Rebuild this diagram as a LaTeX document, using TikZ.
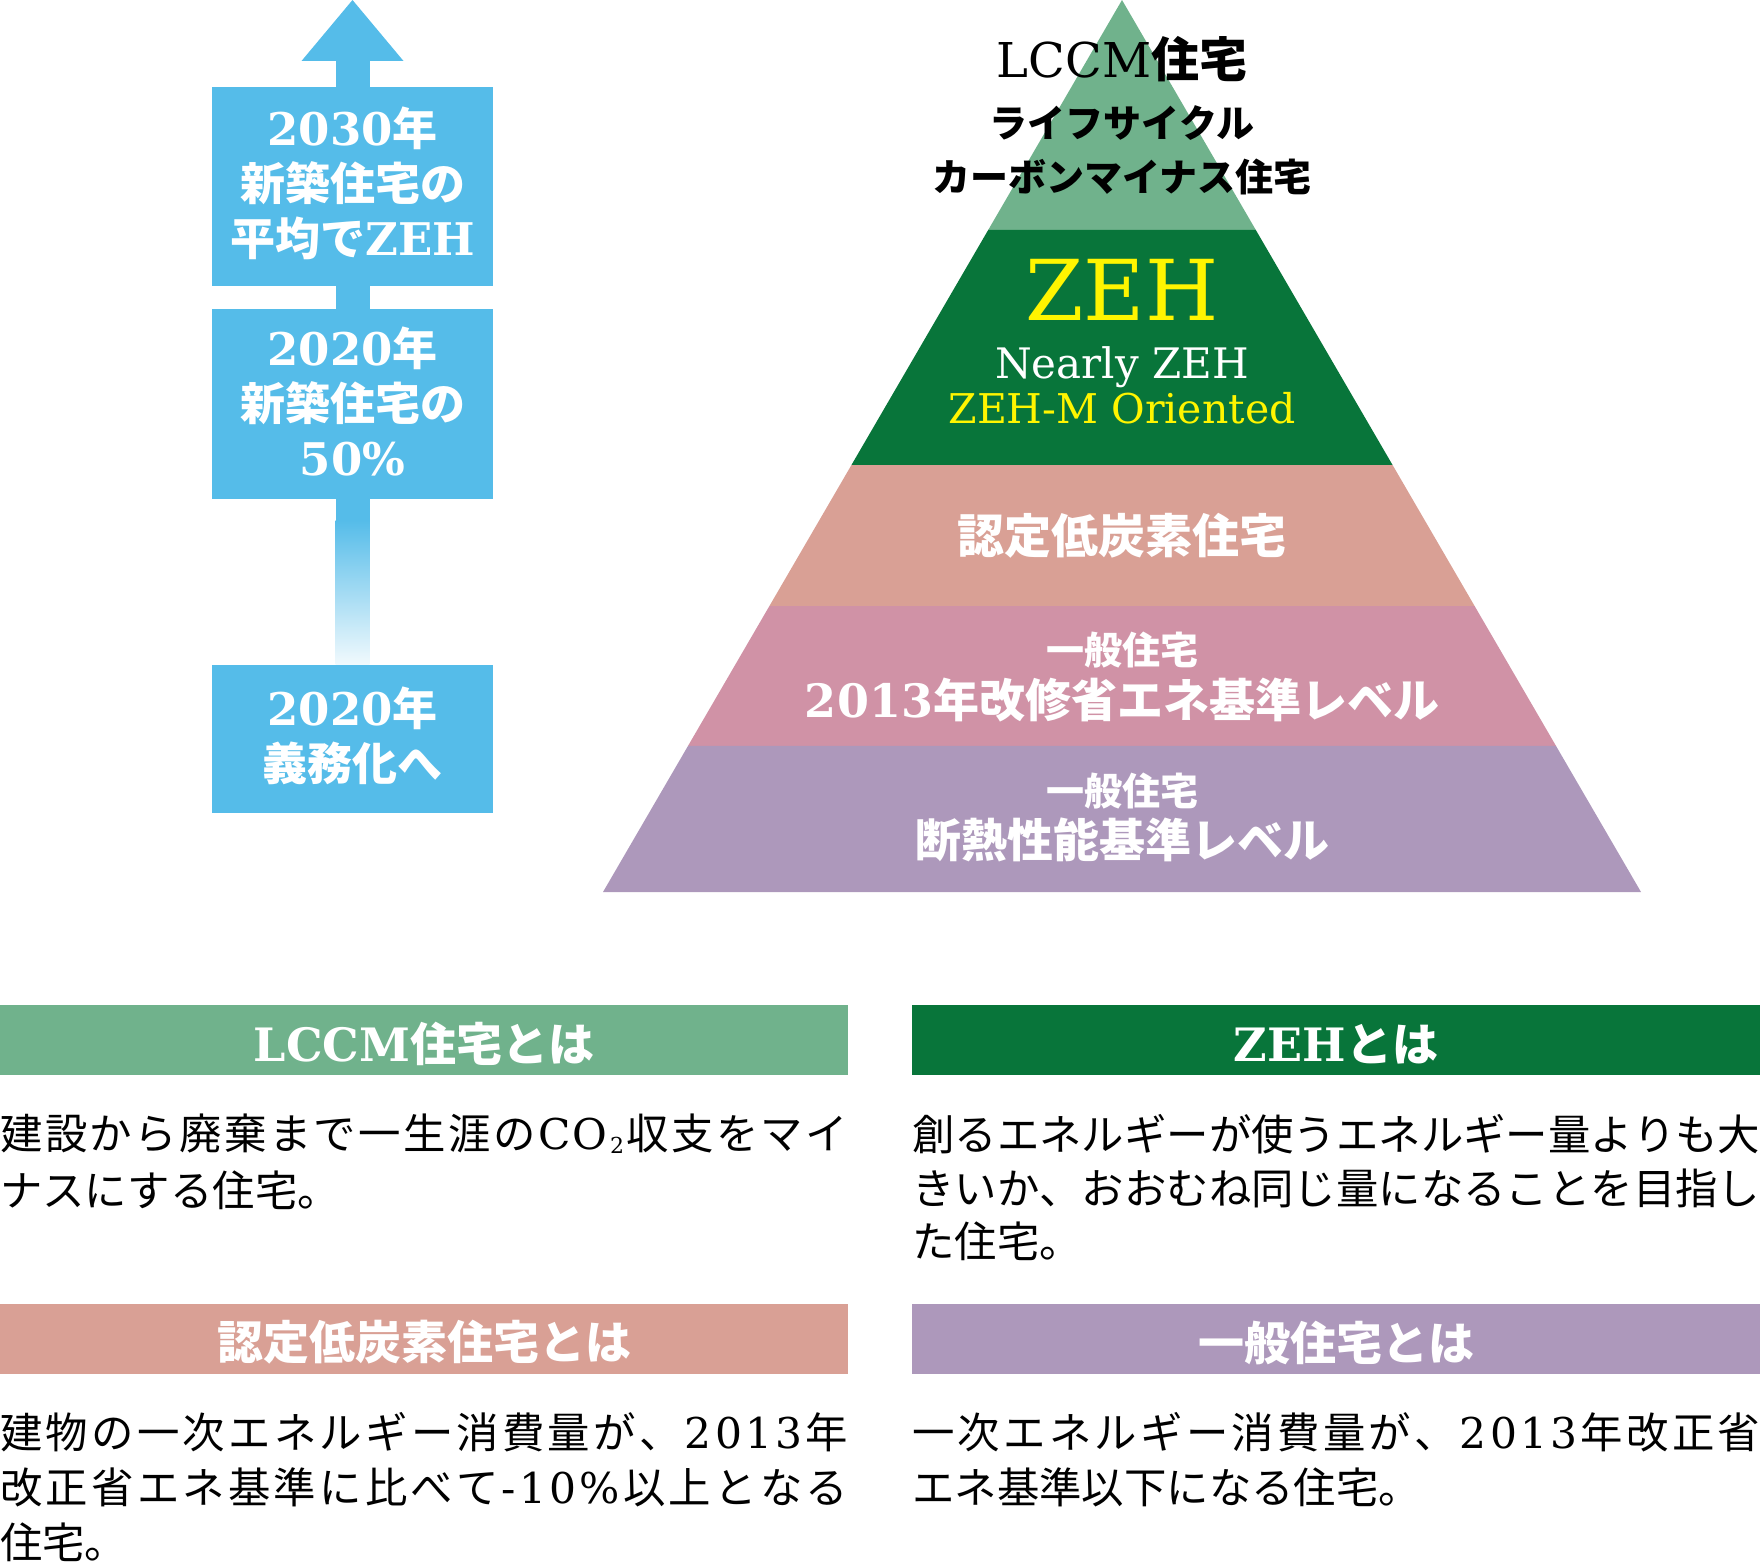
\documentclass[tikz,border=0pt]{standalone}
\usepackage{fontspec}
\setmainfont{Noto Sans CJK JP}
\newfontfamily\lat{DejaVu Serif}
\usetikzlibrary{calc}
\definecolor{skyb}{RGB}{85,188,233}
\definecolor{lgreen}{RGB}{112,178,140}
\definecolor{dgreen}{RGB}{8,117,58}
\definecolor{salmonc}{RGB}{217,160,149}
\definecolor{pinkc}{RGB}{208,146,166}
\definecolor{purpc}{RGB}{173,152,187}
\definecolor{zyellow}{RGB}{255,245,0}
\newcommand\fsz[2]{\fontsize{#1}{#2}\selectfont}
\newcommand\subtwo{\raisebox{-0.1em}{\fontsize{22}{22}\selectfont\lat 2}}
\ExplSyntaxOn
\NewDocumentCommand\spreadline{m}{
  \hbox_to_wd:nn {848pt} { \tl_map_inline:nn {#1} { {##1} \hfil } \unskip }
}
\ExplSyntaxOff
\tikzset{
  boxfill/.style={fill=skyb, inner sep=0pt, minimum width=281pt},
  boxtxt/.style={text=white, font=\bfseries\fsz{45}{55}, align=center, inner sep=0pt},
  pyrtxt/.style={text=white, font=\bfseries\fsz{47}{55}, inner sep=0pt},
  hdr/.style={inner sep=0pt, minimum width=848pt, minimum height=70pt},
  hdrtxt/.style={text=white, font=\bfseries\fsz{46}{50}, inner sep=0pt},
  bodytxt/.style={anchor=west, inner sep=0pt, font=\fsz{42.4}{54}, text=black},
}
\begin{document}
\begin{tikzpicture}[x=1pt,y=-1pt]
\path[use as bounding box] (0,0) rectangle (1760,1563);
% pyramid
\coordinate (apex) at (1122,0);
\coordinate (bl) at (603,892);
\coordinate (br) at (1641,892);
\coordinate (l1) at ($(apex)!0.2578!(bl)$);
\coordinate (r1) at ($(apex)!0.2578!(br)$);
\coordinate (l2) at ($(apex)!0.5213!(bl)$);
\coordinate (r2) at ($(apex)!0.5213!(br)$);
\coordinate (l3) at ($(apex)!0.6794!(bl)$);
\coordinate (r3) at ($(apex)!0.6794!(br)$);
\coordinate (l4) at ($(apex)!0.8363!(bl)$);
\coordinate (r4) at ($(apex)!0.8363!(br)$);
\fill[lgreen] (apex) -- (r1) -- (l1) -- cycle;
\fill[dgreen] (l1) -- (r1) -- (r2) -- (l2) -- cycle;
\fill[salmonc] (l2) -- (r2) -- (r3) -- (l3) -- cycle;
\fill[pinkc] (l3) -- (r3) -- (r4) -- (l4) -- cycle;
\fill[purpc] (l4) -- (r4) -- (br) -- (bl) -- cycle;
% pyramid texts
\node[inner sep=0pt, font=\bfseries\fsz{48}{50}, text=black] (lccm) at (1122,59) {{\lat\mdseries LCCM}住宅};
\node[inner sep=0pt, font=\bfseries\fsz{38}{40}, text=black] (lc2) at (1122,123) {ライフサイクル};
\node[inner sep=0pt, font=\bfseries\fsz{38}{40}, text=black] (lc3) at (1122,177) {カーボンマイナス住宅};
\node[inner sep=0pt, font=\lat\fsz{84}{90}, text=zyellow] (zeh) at (1122,290) {ZEH};
\node[inner sep=0pt, anchor=base, font=\lat\fsz{42}{45}, text=white] (nz) at (1122,378) {Nearly ZEH};
\node[inner sep=0pt, anchor=base, font=\lat\fsz{41}{45}, text=zyellow] (zm) at (1122,423) {ZEH-M Oriented};
\node[pyrtxt] (nt) at (1122,536) {認定低炭素住宅};
\node[pyrtxt, font=\bfseries\fsz{38}{40}] (ip1) at (1122,650) {一般住宅};
\node[pyrtxt, font=\bfseries\fsz{46}{50}] (ip1b) at (1122,700) {{\lat 2013}年改修省エネ基準レベル};
\node[pyrtxt, font=\bfseries\fsz{38}{40}] (ip2) at (1122,791) {一般住宅};
\node[pyrtxt, font=\bfseries\fsz{46}{50}] (ip2b) at (1122,840) {断熱性能基準レベル};
% left arrow and boxes
\node[boxfill, minimum height=199pt] (b1) at (352.5,186.5) {};
\node[boxfill, minimum height=190pt] (b2) at (352.5,404) {};
\node[boxfill, minimum height=148pt] (b3) at (352.5,739) {};
\node[boxtxt] (b1t) at ([yshift=3pt]b1.center) {{\lat 2030}年\\新築住宅の\\平均で{\lat ZEH}};
\node[boxtxt] (b2t) at ([yshift=3pt]b2.center) {{\lat 2020}年\\新築住宅の\\{\lat 50\%}};
\node[boxtxt] (b3t) at ([yshift=3pt]b3.center) {{\lat 2020}年\\義務化へ};
\coordinate (tip) at (352.5,0);
\fill[skyb] (tip) -- ++(51,61) -- ++(-102,0) -- cycle;
\fill[skyb] ($(b1.north)+(-17,1)$) rectangle ($(tip)+(17,60)$);
\fill[skyb] ($(b1.south)+(-17,-1)$) rectangle ($(b2.north)+(17,1)$);
\fill[skyb] ($(b2.south)+(-17,-1)$) rectangle ($(b2.south)+(17,22)$);
\shade[top color=skyb, bottom color=skyb!8] ($(b2.south)+(-17,21)$) rectangle ($(b3.north)+(17,0)$);
% headers
\node[hdr, fill=lgreen] (h1) at (424,1040) {};
\node[hdr, fill=dgreen] (h2) at (1336,1040) {};
\node[hdr, fill=salmonc] (h3) at (424,1338.5) {};
\node[hdr, fill=purpc] (h4) at (1336,1338.5) {};
\node[hdrtxt] (h1t) at ([yshift=-4pt]h1.center) {{\lat LCCM}住宅とは};
\node[hdrtxt] (h2t) at ([yshift=-4pt]h2.center) {{\lat ZEH}とは};
\node[hdrtxt] (h3t) at ([yshift=-4pt]h3.center) {認定低炭素住宅とは};
\node[hdrtxt] (h4t) at ([yshift=-4pt]h4.center) {一般住宅とは};
% body texts
\node[bodytxt] (t1a) at (0,1134) {\spreadline{建設から廃棄まで一生涯の{\lat C}{\lat O}\subtwo 収支をマイ}};
\node[bodytxt] (t1b) at (0,1190) {ナスにする住宅。};
\node[bodytxt] (t2a) at (912,1134) {\spreadline{創るエネルギーが使うエネルギー量よりも大}};
\node[bodytxt] (t2b) at (912,1188) {\spreadline{きいか、おおむね同じ量になることを目指し}};
\node[bodytxt] (t2c) at (912,1241) {た住宅。};
\node[bodytxt] (t3a) at (0,1432) {\spreadline{建物の一次エネルギー消費量が、{\lat 2}{\lat 0}{\lat 1}{\lat 3}年}};
\node[bodytxt] (t3b) at (0,1487) {\spreadline{改正省エネ基準に比べて{\lat -}{\lat 1}{\lat 0}{\lat \%}以上となる}};
\node[bodytxt] (t3c) at (0,1542) {住宅。};
\node[bodytxt] (t4a) at (912,1432) {\spreadline{一次エネルギー消費量が、{\lat 2}{\lat 0}{\lat 1}{\lat 3}年改正省}};
\node[bodytxt] (t4b) at (912,1487) {エネ基準以下になる住宅。};
\end{tikzpicture}
\end{document}
